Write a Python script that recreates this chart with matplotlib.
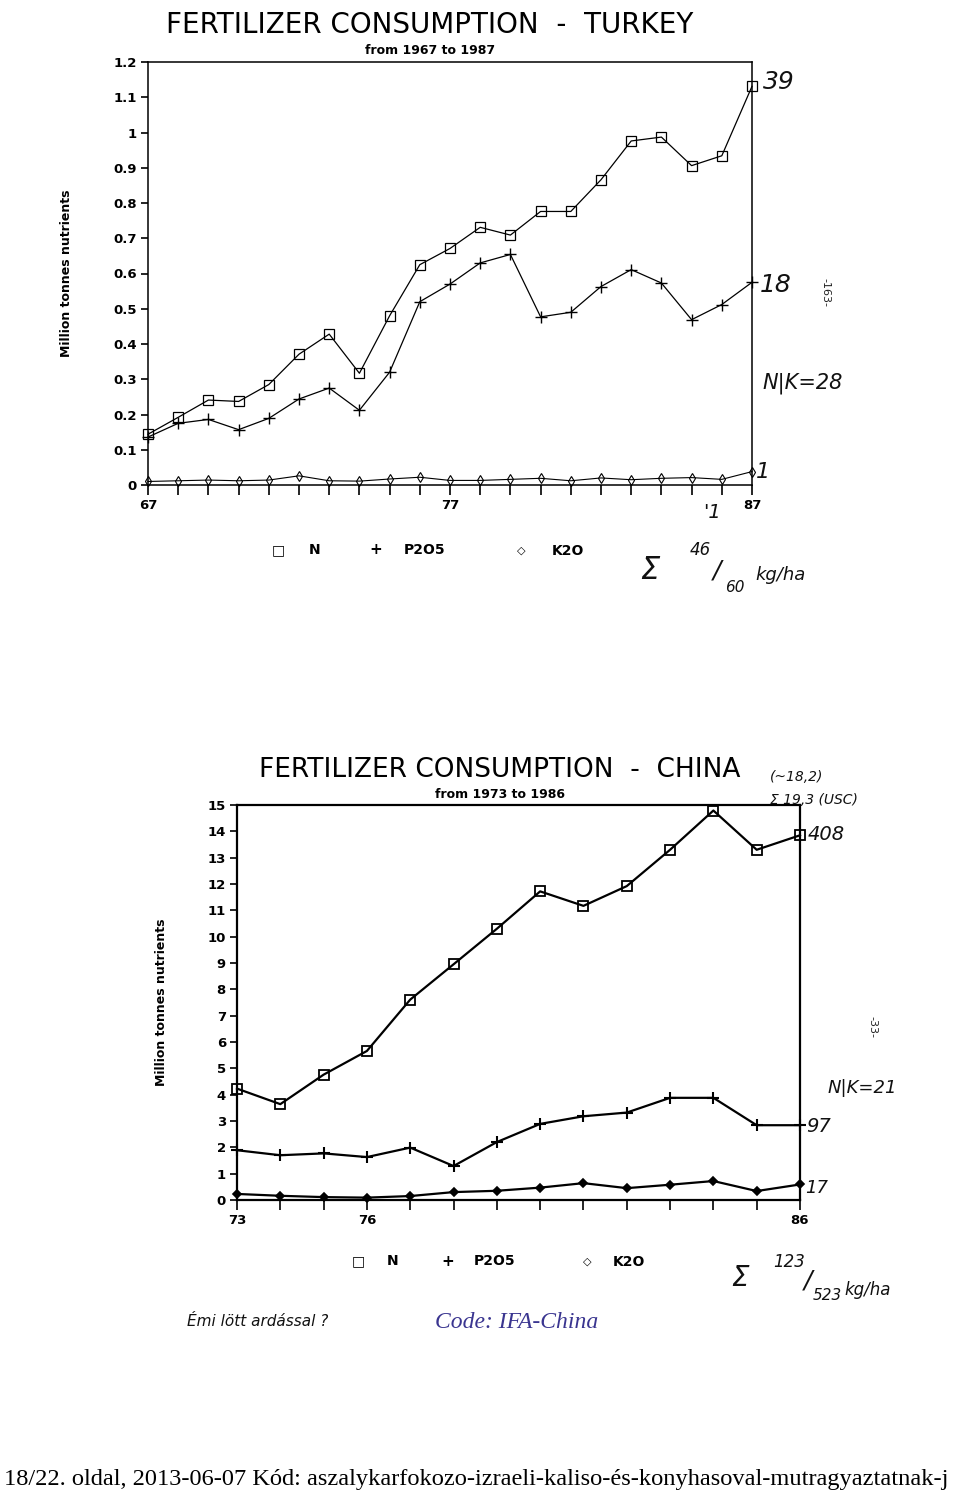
import matplotlib
matplotlib.use("Agg")
import matplotlib.pyplot as plt

# ---------------- data ----------------
turkey_years = list(range(67, 88))
turkey_n = [0.144, 0.192, 0.241, 0.237, 0.285, 0.371, 0.428, 0.317, 0.480, 0.625,
            0.671, 0.731, 0.709, 0.776, 0.776, 0.866, 0.976, 0.987, 0.906, 0.934, 1.131]
turkey_p = [0.136, 0.175, 0.186, 0.157, 0.189, 0.244, 0.275, 0.212, 0.320, 0.520,
            0.570, 0.630, 0.654, 0.477, 0.490, 0.563, 0.611, 0.573, 0.469, 0.512, 0.575]
turkey_k = [0.010, 0.012, 0.014, 0.012, 0.014, 0.026, 0.012, 0.011, 0.017, 0.022,
            0.013, 0.013, 0.016, 0.019, 0.012, 0.020, 0.015, 0.019, 0.021, 0.016, 0.038]
turkey_yticks = [0, 0.1, 0.2, 0.3, 0.4, 0.5, 0.6, 0.7, 0.8, 0.9, 1.0, 1.1, 1.2]
turkey_ylabels = ["0", "0.1", "0.2", "0.3", "0.4", "0.5", "0.6", "0.7", "0.8", "0.9", "1", "1.1", "1.2"]
turkey_xlabels = {67: "67", 77: "77", 87: "87"}

china_years = list(range(73, 87))
china_n = [4.23, 3.64, 4.76, 5.66, 7.61, 8.95, 10.30, 11.72, 11.17, 11.92, 13.30, 14.79, 13.30, 13.85]
china_p = [1.89, 1.70, 1.77, 1.63, 1.99, 1.29, 2.20, 2.89, 3.18, 3.32, 3.88, 3.88, 2.84, 2.84]
china_k = [0.23, 0.16, 0.11, 0.09, 0.15, 0.30, 0.35, 0.47, 0.64, 0.45, 0.58, 0.72, 0.34, 0.59]
china_yticks = list(range(0, 16))
china_xlabels = {73: "73", 76: "76", 86: "86"}

W, H = 960, 1496
fig = plt.figure(figsize=(W / 100, H / 100), dpi=100)
fig.patch.set_facecolor("white")

SANS = ["DejaVu Sans"]
HAND = ["DejaVu Sans"]


def px_axes(x0, y0, x1, y1):
    return fig.add_axes([x0 / W, 1 - y1 / H, (x1 - x0) / W, (y1 - y0) / H])


def ftext(x, y, s, **kw):
    fig.text(x / W, 1 - y / H, s, **kw)


def style_axes(ax, years, yticks, ylabels, xlabels, ylim, lw):
    ax.set_xlim(years[0], years[-1])
    ax.set_ylim(*ylim)
    ax.set_xticks(years)
    ax.set_xticklabels([xlabels.get(y, "") for y in years])
    ax.set_yticks(yticks)
    ax.set_yticklabels(ylabels)
    ax.tick_params(axis="both", direction="out", length=7, width=1.2, colors="black",
                   labelsize=9.5, pad=3)
    ax.tick_params(axis="y", length=5)
    for lab in ax.get_xticklabels() + ax.get_yticklabels():
        lab.set_fontweight("bold")
        lab.set_family(SANS)
    for sp in ax.spines.values():
        sp.set_linewidth(lw)
        sp.set_color("black")
    ax.set_facecolor("white")


hand = dict(family=HAND, style="italic", fontweight="light", color="#111111")

# ---------------- Turkey ----------------
ax1 = px_axes(148, 62, 752, 485)
ax1.plot(turkey_years, turkey_n, color="black", lw=0.9, marker="s", ms=7,
         mfc="none", mec="black", mew=0.9, clip_on=False)
ax1.plot(turkey_years, turkey_p, color="black", lw=0.9, marker="+", ms=8,
         mew=1.0, clip_on=False)
ax1.plot(turkey_years, turkey_k, color="black", lw=0.8, marker="d", ms=5,
         mfc="none", mec="black", mew=0.8, clip_on=False)
style_axes(ax1, turkey_years, turkey_yticks, turkey_ylabels, turkey_xlabels, (0, 1.2), 1.1)
ax1.set_ylabel("Million tonnes nutrients", fontsize=9, fontweight="bold", family=SANS)
ax1.yaxis.set_label_coords(-0.124, 0.5)

ftext(430, 25, "FERTILIZER CONSUMPTION  -  TURKEY", ha="center", va="center",
      fontsize=20, family=SANS)
ftext(430, 50, "from 1967 to 1987", ha="center", va="center", fontsize=9,
      fontweight="bold", family=SANS)

# legend (Turkey)
ftext(278, 550, "□", ha="center", va="center", fontsize=10, family=["DejaVu Sans"])
ftext(315, 550, "N", ha="center", va="center", fontsize=10, fontweight="bold", family=SANS)
ftext(376, 550, "+", ha="center", va="center", fontsize=11, fontweight="bold", family=SANS)
ftext(425, 550, "P2O5", ha="center", va="center", fontsize=10, fontweight="bold", family=SANS)
ftext(521, 551, "◇", ha="center", va="center", fontsize=8, family=["DejaVu Sans"])
ftext(568, 551, "K2O", ha="center", va="center", fontsize=10, fontweight="bold", family=SANS)

# handwritten notes (Turkey)
ftext(763, 82, "39", ha="left", va="center", fontsize=18, **hand)
ftext(760, 285, "18", ha="left", va="center", fontsize=18, **hand)
ftext(762, 383, "N|K=28", ha="left", va="center", fontsize=15, **hand)
ftext(756, 472, "1", ha="left", va="center", fontsize=16, **hand)
ftext(712, 512, "'1", ha="center", va="center", fontsize=14, **hand)
ftext(825, 292, "-163-", ha="center", va="center", rotation=-90, fontsize=8, color="#222222")
ftext(650, 570, "Σ", ha="center", va="center", fontsize=22, **hand)
ftext(700, 550, "46", ha="center", va="center", fontsize=12, **hand)
ftext(717, 570, "/", ha="center", va="center", fontsize=18, **hand)
ftext(735, 588, "60", ha="center", va="center", fontsize=11, **hand)
ftext(780, 575, "kg/ha", ha="center", va="center", fontsize=13, **hand)

# ---------------- China ----------------
ax2 = px_axes(237, 805, 800, 1200)
ax2.plot(china_years, china_n, color="black", lw=1.6, marker="s", ms=7,
         mfc="none", mec="black", mew=1.3, clip_on=False)
ax2.plot(china_years, china_p, color="black", lw=1.6, marker="+", ms=9,
         mew=1.5, clip_on=False)
ax2.plot(china_years, china_k, color="black", lw=1.6, marker="D", ms=4.5,
         mfc="black", mec="black", mew=1.2, clip_on=False)
style_axes(ax2, china_years, china_yticks, [str(v) for v in china_yticks], china_xlabels,
           (0, 15), 1.6)
ax2.set_ylabel("Million tonnes nutrients", fontsize=9, fontweight="bold", family=SANS)
ax2.yaxis.set_label_coords(-0.123, 0.5)

ftext(500, 770, "FERTILIZER CONSUMPTION  -  CHINA", ha="center", va="center",
      fontsize=19, family=SANS)
ftext(500, 794, "from 1973 to 1986", ha="center", va="center", fontsize=9,
      fontweight="bold", family=SANS)

# legend (China)
ftext(358, 1261, "□", ha="center", va="center", fontsize=10, family=["DejaVu Sans"])
ftext(393, 1261, "N", ha="center", va="center", fontsize=10, fontweight="bold", family=SANS)
ftext(448, 1261, "+", ha="center", va="center", fontsize=11, fontweight="bold", family=SANS)
ftext(495, 1261, "P2O5", ha="center", va="center", fontsize=10, fontweight="bold", family=SANS)
ftext(587, 1262, "◇", ha="center", va="center", fontsize=8, family=["DejaVu Sans"])
ftext(629, 1262, "K2O", ha="center", va="center", fontsize=10, fontweight="bold", family=SANS)

# handwritten notes (China)
ftext(770, 777, "(~18,2)", ha="left", va="center", fontsize=10, **hand)
ftext(770, 800, "Σ 19,3 (USC)", ha="left", va="center", fontsize=10, **hand)
ftext(808, 835, "408", ha="left", va="center", fontsize=14, **hand)
ftext(872, 1027, "-33-", ha="center", va="center", rotation=-90, fontsize=8, color="#222222")
ftext(828, 1088, "N|K=21", ha="left", va="center", fontsize=13, **hand)
ftext(806, 1127, "97", ha="left", va="center", fontsize=14, **hand)
ftext(805, 1188, "17", ha="left", va="center", fontsize=13, **hand)
ftext(740, 1278, "Σ", ha="center", va="center", fontsize=20, **hand)
ftext(789, 1262, "123", ha="center", va="center", fontsize=12, **hand)
ftext(808, 1280, "/", ha="center", va="center", fontsize=18, **hand)
ftext(827, 1296, "523", ha="center", va="center", fontsize=11, **hand)
ftext(868, 1290, "kg/ha", ha="center", va="center", fontsize=12, **hand)

ftext(258, 1322, "Émi lött ardással ?", ha="center", va="center", fontsize=11, **hand)
ftext(517, 1322, "Code: IFA-China", ha="center", va="center", fontsize=17,
      family=["Liberation Serif", "DejaVu Serif"], style="italic", color="#3a3590")

# footer
ftext(4, 1480, "18/22. oldal, 2013-06-07 Kód: aszalykarfokozo-izraeli-kaliso-és-konyhasoval-mutragyaztatnak-j",
      ha="left", va="center", fontsize=17.6, family=["Liberation Serif", "DejaVu Serif"])

fig.savefig("out.png", dpi=100, facecolor="white")
